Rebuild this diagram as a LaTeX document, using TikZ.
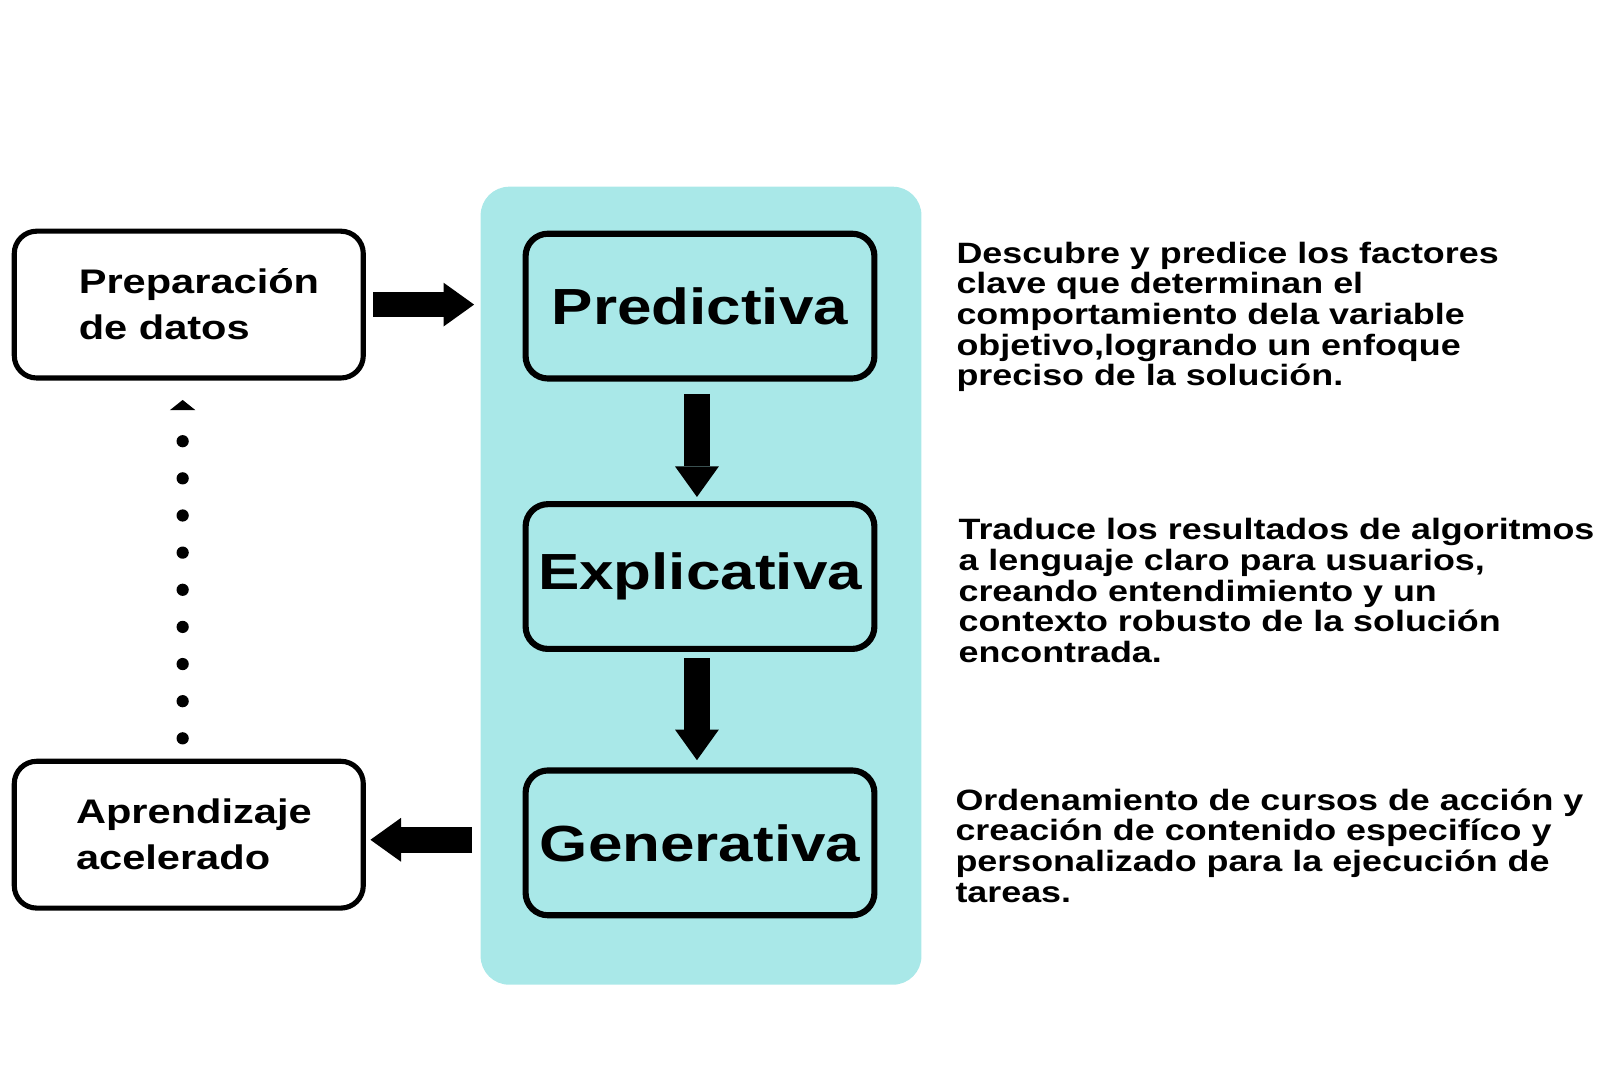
\documentclass[tikz,border=0pt]{standalone}
\usepackage{fontspec}
\setmainfont{Liberation Sans}[FakeStretch=1.22]
\usetikzlibrary{arrows.meta,calc}
\definecolor{panelc}{RGB}{169,232,232}
\begin{document}
\begin{tikzpicture}[x=0.5102pt,y=-0.5102pt,
  panel/.style={fill=panelc, rounded corners=14.3pt, minimum width=220.4pt, minimum height=399pt, inner sep=0pt},
  cbox/.style={draw=black, fill=panelc, line width=3.06pt, rounded corners=11.2pt, minimum width=174.4pt, minimum height=72.4pt, inner sep=0pt,
     font=\bfseries\fontsize{25.4pt}{30.6pt}\selectfont},
  lbox/.style={draw=black, fill=white, line width=2.55pt, rounded corners=11.2pt, minimum width=174.5pt, minimum height=73.4pt, inner sep=0pt,
     align=left, font=\bfseries\fontsize{17.04pt}{23pt}\selectfont},
  desc/.style={align=left, inner sep=0pt, font=\bfseries\fontsize{14.7pt}{15.3pt}\selectfont},
  bigarrow/.style={line width=12.76pt, -{Triangle[width=21.94pt,length=15.3pt,line width=0pt]}},
  dotline/.style={line width=6.12pt, line cap=round, dash pattern=on 0pt off 18.57pt}
]
\useasboundingbox (0,0) rectangle (1568,1045.6);
\node[panel] (panel) at (687,574) {};
\node[cbox] (pred) at (686,300) {Predictiva};
\node[cbox] (expl) at (686,565) {Explicativa};
\node[cbox] (gen) at (686,826) {Generativa};
\node[lbox] (prep) at (185,298.5) {\hspace*{10.2pt}Preparación\\\hspace*{10.2pt}de datos};
\node[lbox] (apr) at (185,818) {\hspace*{5.1pt}Aprendizaje\\\hspace*{5.1pt}acelerado};

\draw[bigarrow, shorten <=3.8pt, shorten >=3.06pt] (prep.east) -- (prep.east -| panel.west);
\draw[bigarrow, shorten <=6.1pt, shorten >=2.04pt] ($(pred.south)+(-3,0)$) -- ($(expl.north)+(-3,0)$);
\draw[bigarrow, shorten <=3.06pt, shorten >=3.6pt] ($(expl.south)+(-3,0)$) -- ($(gen.north)+(-3,0)$);
\coordinate (la) at ($(apr.east)+(0,5)$);
\draw[bigarrow, shorten <=4.08pt, shorten >=2.3pt] (panel.west |- la) -- (la);

\draw[dotline] ($(apr.north)+(-6,-20)$) -- ($(prep.south)+(-6,59)$);
\fill ($(prep.south)+(-18.5,29)$) -- ($(prep.south)+(6.5,29)$) -- ($(prep.south)+(-6,19)$) -- cycle;

\node[desc, anchor=base west] (d1) at (937,378) {Descubre y predice los factores\\clave que determinan el\\comportamiento dela variable\\objetivo,logrando un enfoque\\preciso de la solución.};
\node[desc, anchor=base west] (d2) at (939,649) {Traduce los resultados de algoritmos\\a lenguaje claro para usuarios,\\creando entendimiento y un\\contexto robusto de la solución\\encontrada.};
\node[desc, anchor=base west] (d3) at (936,884) {Ordenamiento de cursos de acción y\\creación de contenido especifíco y\\personalizado para la ejecución de\\tareas.};
\end{tikzpicture}
\end{document}
